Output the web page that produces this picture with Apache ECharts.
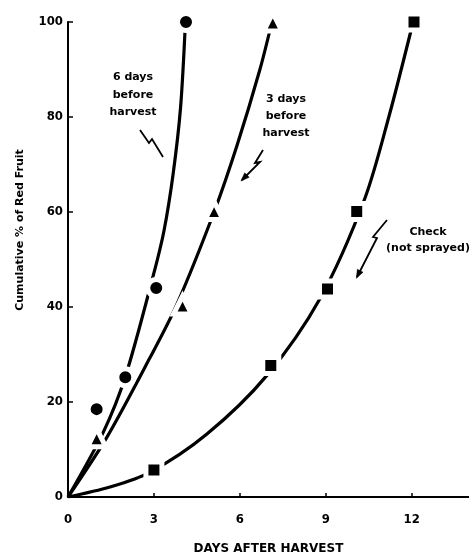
<!DOCTYPE html>
<html>
<head>
<meta charset="utf-8">
<script src="https://cdn.jsdelivr.net/npm/echarts@6/dist/echarts.min.js"></script>
<style>
html,body{margin:0;padding:0;background:#fff;}
#chart{width:469px;height:560px;}
</style>
</head>
<body>
<div id="chart"></div>
<script>
// ---- data ----
const xTickValues = [0, 3, 6, 9, 12];
const yTickValues = [0, 20, 40, 60, 80, 100];

// measured points (days after harvest, cumulative % red fruit)
const sixDaysPoints   = [[1, 18.5], [2, 25.2], [3.08, 44], [4.12, 100]];
const threeDaysPoints = [[1, 12.5], [4, 40.4], [5.1, 60.3], [7.15, 100]];
const checkPoints     = [[3, 5.7], [7.08, 27.7], [9.06, 43.8], [10.08, 60.1], [12.08, 100]];

// fitted curves as drawn in the reference
const sixDaysCurve   = [[0, 0], [1.23, 13.6], [2, 25.3], [2.98, 46.7], [3.35, 56], [3.67, 68], [3.93, 82], [4.1, 100]];
const threeDaysCurve = [[0, 0], [1.35, 12.5], [2.86, 29.3], [3.79, 40.4], [5.1, 60], [5.9, 74], [6.7, 90], [7.12, 100]];
const checkCurve     = [[0, 0], [1.46, 2.1], [2.86, 5.2], [4.84, 13.2], [6.93, 25.5], [8.8, 41.8], [10.36, 62.8], [11.2, 80], [12.05, 100]];

const labelFont = '"DejaVu Sans Condensed", "Liberation Sans Narrow", "DejaVu Sans", sans-serif';
const textFont = '"DejaVu Sans", sans-serif';

const chart = echarts.init(document.getElementById('chart'), null, {renderer: 'canvas'});

function curveSeries(data) {
  return {
    type: 'line', data: data, smooth: 0.3,
    showSymbol: false, symbol: 'none', silent: true, z: 2,
    lineStyle: {color: '#000', width: 3.2}
  };
}
function markerSeries(data, symbol, size) {
  return {
    type: 'scatter', data: data, symbol: symbol, symbolSize: size, z: 5, silent: true,
    itemStyle: {color: '#000', borderColor: '#fff', borderWidth: 5, opacity: 1}
  };
}

function bolt(points, arrow) {
  const els = [{
    type: 'polyline', shape: {points: points}, z: 10,
    style: {stroke: '#000', lineWidth: 1.8, fill: null}
  }];
  if (arrow) {
    const p = points[points.length - 1], q = points[points.length - 2];
    const dx = p[0] - q[0], dy = p[1] - q[1];
    const L = Math.sqrt(dx * dx + dy * dy), ux = dx / L, uy = dy / L;
    const len = 7, w = 3.2;
    const bx = p[0] - ux * len, by = p[1] - uy * len;
    els.push({
      type: 'polygon', z: 10,
      shape: {points: [[p[0] + ux * 1.5, p[1] + uy * 1.5], [bx - uy * w, by + ux * w], [bx + uy * w, by - ux * w]]},
      style: {fill: '#000', stroke: '#000', lineWidth: 0.5}
    });
  }
  return els;
}
function label(text, x, y) {
  return {
    type: 'text', x: x, y: y, z: 10,
    style: {text: text, font: 'bold 11px ' + textFont, fill: '#000', align: 'center', verticalAlign: 'middle'}
  };
}

const option = {
  animation: false,
  backgroundColor: '#fff',
  grid: {left: 68, right: 0, top: 22, bottom: 60, containLabel: false},
  xAxis: {
    type: 'value', min: 0, max: 14,
    name: 'DAYS AFTER HARVEST', nameLocation: 'middle', nameGap: 46,
    nameTextStyle: {fontFamily: textFont, fontWeight: 'bold', fontSize: 12, color: '#000'},
    axisLine: {show: true, lineStyle: {color: '#000', width: 2}},
    axisTick: {show: true, inside: true, length: 4, customValues: xTickValues, lineStyle: {color: '#000', width: 1.5}},
    axisLabel: {customValues: xTickValues, margin: 16, fontFamily: labelFont, fontWeight: 'bold', fontSize: 13, color: '#000'},
    splitLine: {show: false}
  },
  yAxis: {
    type: 'value', min: 0, max: 100, interval: 20,
    axisLine: {show: true, lineStyle: {color: '#000', width: 2}},
    axisTick: {show: true, inside: true, length: 5, lineStyle: {color: '#000', width: 1.5}},
    axisLabel: {margin: 5, fontFamily: labelFont, fontWeight: 'bold', fontSize: 13, color: '#000'},
    splitLine: {show: false}
  },
  series: [
    curveSeries(sixDaysCurve),
    curveSeries(threeDaysCurve),
    curveSeries(checkCurve),
    markerSeries(sixDaysPoints, 'circle', 17),
    markerSeries(threeDaysPoints, 'triangle', 18),
    markerSeries(checkPoints, 'rect', 16)
  ],
  graphic: [
    {
      type: 'text', x: 20, y: 230, rotation: Math.PI / 2, z: 10,
      style: {text: 'Cumulative % of Red Fruit', font: 'bold 11px ' + textFont, fill: '#000', align: 'center', verticalAlign: 'middle'}
    },
    label('6 days', 133, 77),
    label('before', 133, 95),
    label('harvest', 133, 112),
    label('3 days', 286, 99),
    label('before', 286, 116),
    label('harvest', 286, 133),
    label('Check', 428, 232),
    label('(not sprayed)', 428, 248)
  ]
    .concat(bolt([[140, 130], [149, 143], [152, 139], [163, 157]], false))
    .concat(bolt([[263, 150], [255, 163], [260, 162], [242, 180]], true))
    .concat(bolt([[387, 220], [373, 237], [377, 238], [357, 277]], true))
};
chart.setOption(option);
</script>
</body>
</html>
